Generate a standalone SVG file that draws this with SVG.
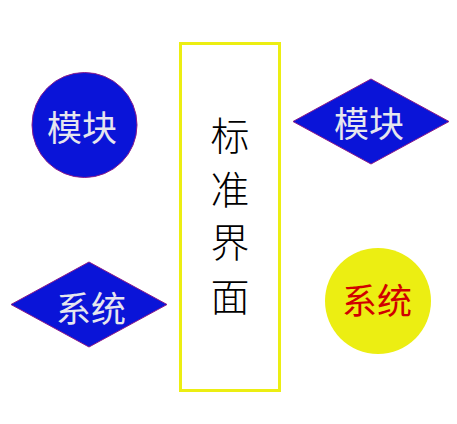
<svg xmlns="http://www.w3.org/2000/svg" width="457" height="424" viewBox="0 0 457 424">
<style>
.blue{fill:#0a14d8;stroke:#8a1a8a;stroke-width:1}
.lt{font-family:"Noto Sans CJK SC",sans-serif;font-size:35px;fill:#e6e6ee;text-anchor:middle;dominant-baseline:central}
.rt{font-family:"Noto Sans CJK SC",sans-serif;font-size:35px;fill:#d00000;text-anchor:middle;dominant-baseline:central}
.bt{font-family:"Noto Sans CJK SC",serif;font-size:39px;fill:#000;text-anchor:middle;dominant-baseline:central;font-weight:300}
</style>
<rect width="457" height="424" fill="#fff"/>
<g id="standard">
<rect x="180.5" y="43.5" width="99" height="347" fill="#fff" stroke="#ecee12" stroke-width="3"/>
<text class="bt"><tspan x="230" y="133">标</tspan><tspan x="230" y="186.5">准</tspan><tspan x="230" y="240">界</tspan><tspan x="230" y="293.5">面</tspan></text>
</g>
<g id="module-circle">
<circle class="blue" cx="84.5" cy="125" r="52.5"/>
<text class="lt" x="82" y="125">模块</text>
</g>
<g id="module-diamond">
<polygon class="blue" points="293,121.5 371,79 449,121.5 371,164"/>
<text class="lt" x="369" y="121">模块</text>
</g>
<g id="system-diamond">
<polygon class="blue" points="11,304.5 89,262 167,304.5 89,347"/>
<text class="lt" x="91" y="306">系统</text>
</g>
<g id="system-circle">
<circle cx="378" cy="301" r="53" fill="#ecee12"/>
<text class="rt" x="377" y="298">系统</text>
</g>
<g id="connectors"/>
</svg>
